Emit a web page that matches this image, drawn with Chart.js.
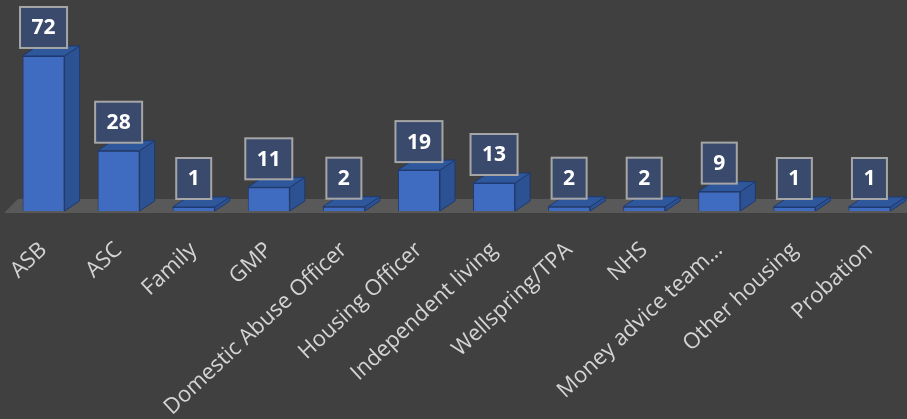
<!DOCTYPE html>
<html>
<head>
<meta charset="utf-8">
<script src="https://cdn.jsdelivr.net/npm/chart.js@4.4.1/dist/chart.umd.min.js"></script>
<style>
  html, body { margin: 0; padding: 0; background: #404040; }
  #wrap { width: 907px; height: 419px; }
</style>
</head>
<body>
<div id="wrap"><canvas id="barChart"></canvas></div>
<script>
var categories = ['ASB', 'ASC', 'Family', 'GMP', 'Domestic Abuse Officer', 'Housing Officer',
    'Independent living', 'Wellspring/TPA', 'NHS', 'Money advice team…', 'Other housing', 'Probation'];
var referrals = [72, 28, 1, 11, 2, 19, 13, 2, 2, 9, 1, 1];

var DX = 15, DY = 10; // depth of the 3d boxes

// floor under the bars
var floorPlugin = {
    id: 'floor',
    beforeDatasetsDraw: function (chart) {
        var ctx = chart.ctx;
        var area = chart.chartArea;
        var y0 = chart.scales.y.getPixelForValue(0);
        ctx.save();
        ctx.fillStyle = '#595959';
        ctx.beginPath();
        ctx.moveTo(area.left - 2, y0 + 2);
        ctx.lineTo(area.right, y0 + 2);
        ctx.lineTo(area.right, y0 - 12);
        ctx.lineTo(area.left + 12, y0 - 12);
        ctx.closePath();
        ctx.fill();
        ctx.restore();
    }
};

// side + top faces and the value boxes
var boxPlugin = {
    id: 'box3d',
    afterDatasetsDraw: function (chart) {
        var ctx = chart.ctx;
        var meta = chart.getDatasetMeta(0);
        ctx.save();
        meta.data.forEach(function (bar, i) {
            var p = bar.getProps(['x', 'y', 'base', 'width'], true);
            var l = p.x - p.width / 2, r = p.x + p.width / 2;
            ctx.strokeStyle = '#1f3a70';
            ctx.lineWidth = 1;
            // side
            ctx.fillStyle = '#2d5293';
            ctx.beginPath();
            ctx.moveTo(r, p.y);
            ctx.lineTo(r + DX, p.y - DY);
            ctx.lineTo(r + DX, p.base - DY);
            ctx.lineTo(r, p.base);
            ctx.closePath();
            ctx.fill();
            ctx.stroke();
            // top
            ctx.fillStyle = '#2e579c';
            ctx.beginPath();
            ctx.moveTo(l, p.y);
            ctx.lineTo(l + DX, p.y - DY);
            ctx.lineTo(r + DX, p.y - DY);
            ctx.lineTo(r, p.y);
            ctx.closePath();
            ctx.fill();
            ctx.stroke();

            // value label
            var txt = String(referrals[i]);
            ctx.font = 'bold 21px "Open Sans"';
            var tw = ctx.measureText(txt).width;
            var bw = tw + 23, bh = 41;
            var bx = p.x - bw / 2, by = p.y - DY + 2 - bh;
            ctx.fillStyle = '#3a4a6c';
            ctx.fillRect(bx, by, bw, bh);
            ctx.strokeStyle = '#a6a6a6';
            ctx.lineWidth = 2;
            ctx.strokeRect(bx, by, bw, bh);
            ctx.fillStyle = '#ffffff';
            ctx.textAlign = 'center';
            ctx.textBaseline = 'middle';
            ctx.fillText(txt, p.x, by + bh / 2 + 1);
        });
        ctx.restore();
    }
};

var ctx = document.getElementById('barChart').getContext('2d');
new Chart(ctx, {
    type: 'bar',
    data: {
        labels: categories,
        datasets: [{
            data: referrals,
            backgroundColor: '#3f6cc0',
            borderColor: '#1f3a70',
            borderWidth: 1,
            barPercentage: 0.56,
            categoryPercentage: 1,
            minBarLength: 4
        }]
    },
    options: {
        responsive: true,
        maintainAspectRatio: false,
        animation: false,
        layout: { padding: { left: 6, right: 0, top: 0, bottom: 0 } },
        plugins: {
            legend: { display: false },
            tooltip: { enabled: false }
        },
        scales: {
            x: {
                grid: { display: false, drawTicks: false },
                border: { display: false },
                ticks: {
                    color: '#d4d4d4',
                    font: { family: 'Open Sans', size: 22 },
                    minRotation: 43,
                    maxRotation: 43,
                    autoSkip: false,
                    padding: 26
                },
                afterFit: function (scale) {
                    scale.height = 208;
                    scale.paddingLeft = 0;
                    scale.paddingRight = 0;
                }
            },
            y: {
                display: false,
                min: 0,
                max: 98
            }
        }
    },
    plugins: [floorPlugin, boxPlugin]
});
</script>
</body>
</html>
